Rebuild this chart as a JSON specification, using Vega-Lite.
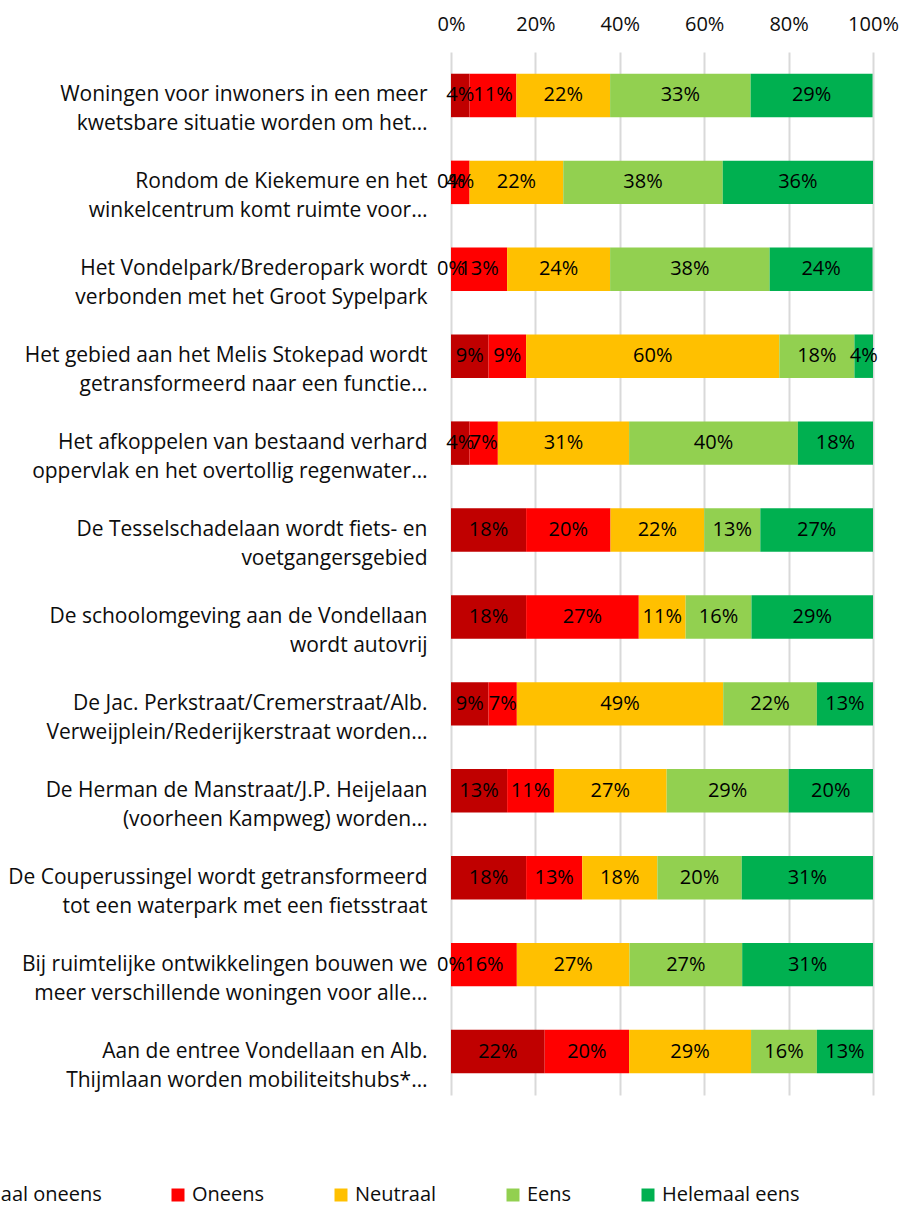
{
  "$schema": "https://vega.github.io/schema/vega-lite/v6.json",
  "width": 422,
  "height": 1043,
  "autosize": {"type": "none"},
  "padding": {"left": 451, "top": 52, "right": 35, "bottom": 111},
  "config": {"view": {"stroke": null}, "font": "Open Sans"},
  "data": {"values": [
    {"q": "Woningen voor inwoners in een meer|kwetsbare situatie worden om het…", "c": "Helemaal oneens", "o": 1, "p": 0.044},
    {"q": "Woningen voor inwoners in een meer|kwetsbare situatie worden om het…", "c": "Oneens", "o": 2, "p": 0.111},
    {"q": "Woningen voor inwoners in een meer|kwetsbare situatie worden om het…", "c": "Neutraal", "o": 3, "p": 0.222},
    {"q": "Woningen voor inwoners in een meer|kwetsbare situatie worden om het…", "c": "Eens", "o": 4, "p": 0.333},
    {"q": "Woningen voor inwoners in een meer|kwetsbare situatie worden om het…", "c": "Helemaal eens", "o": 5, "p": 0.289},
    {"q": "Rondom de Kiekemure en het|winkelcentrum komt ruimte voor…", "c": "Helemaal oneens", "o": 1, "p": 0},
    {"q": "Rondom de Kiekemure en het|winkelcentrum komt ruimte voor…", "c": "Oneens", "o": 2, "p": 0.044},
    {"q": "Rondom de Kiekemure en het|winkelcentrum komt ruimte voor…", "c": "Neutraal", "o": 3, "p": 0.222},
    {"q": "Rondom de Kiekemure en het|winkelcentrum komt ruimte voor…", "c": "Eens", "o": 4, "p": 0.378},
    {"q": "Rondom de Kiekemure en het|winkelcentrum komt ruimte voor…", "c": "Helemaal eens", "o": 5, "p": 0.356},
    {"q": "Het Vondelpark/Brederopark wordt|verbonden met het Groot Sypelpark", "c": "Helemaal oneens", "o": 1, "p": 0},
    {"q": "Het Vondelpark/Brederopark wordt|verbonden met het Groot Sypelpark", "c": "Oneens", "o": 2, "p": 0.133},
    {"q": "Het Vondelpark/Brederopark wordt|verbonden met het Groot Sypelpark", "c": "Neutraal", "o": 3, "p": 0.244},
    {"q": "Het Vondelpark/Brederopark wordt|verbonden met het Groot Sypelpark", "c": "Eens", "o": 4, "p": 0.378},
    {"q": "Het Vondelpark/Brederopark wordt|verbonden met het Groot Sypelpark", "c": "Helemaal eens", "o": 5, "p": 0.244},
    {"q": "Het gebied aan het Melis Stokepad wordt|getransformeerd naar een functie…", "c": "Helemaal oneens", "o": 1, "p": 0.089},
    {"q": "Het gebied aan het Melis Stokepad wordt|getransformeerd naar een functie…", "c": "Oneens", "o": 2, "p": 0.089},
    {"q": "Het gebied aan het Melis Stokepad wordt|getransformeerd naar een functie…", "c": "Neutraal", "o": 3, "p": 0.6},
    {"q": "Het gebied aan het Melis Stokepad wordt|getransformeerd naar een functie…", "c": "Eens", "o": 4, "p": 0.178},
    {"q": "Het gebied aan het Melis Stokepad wordt|getransformeerd naar een functie…", "c": "Helemaal eens", "o": 5, "p": 0.044},
    {"q": "Het afkoppelen van bestaand verhard|oppervlak en het overtollig regenwater…", "c": "Helemaal oneens", "o": 1, "p": 0.044},
    {"q": "Het afkoppelen van bestaand verhard|oppervlak en het overtollig regenwater…", "c": "Oneens", "o": 2, "p": 0.067},
    {"q": "Het afkoppelen van bestaand verhard|oppervlak en het overtollig regenwater…", "c": "Neutraal", "o": 3, "p": 0.311},
    {"q": "Het afkoppelen van bestaand verhard|oppervlak en het overtollig regenwater…", "c": "Eens", "o": 4, "p": 0.4},
    {"q": "Het afkoppelen van bestaand verhard|oppervlak en het overtollig regenwater…", "c": "Helemaal eens", "o": 5, "p": 0.178},
    {"q": "De Tesselschadelaan wordt fiets- en|voetgangersgebied", "c": "Helemaal oneens", "o": 1, "p": 0.178},
    {"q": "De Tesselschadelaan wordt fiets- en|voetgangersgebied", "c": "Oneens", "o": 2, "p": 0.2},
    {"q": "De Tesselschadelaan wordt fiets- en|voetgangersgebied", "c": "Neutraal", "o": 3, "p": 0.222},
    {"q": "De Tesselschadelaan wordt fiets- en|voetgangersgebied", "c": "Eens", "o": 4, "p": 0.133},
    {"q": "De Tesselschadelaan wordt fiets- en|voetgangersgebied", "c": "Helemaal eens", "o": 5, "p": 0.267},
    {"q": "De schoolomgeving aan de Vondellaan|wordt autovrij", "c": "Helemaal oneens", "o": 1, "p": 0.178},
    {"q": "De schoolomgeving aan de Vondellaan|wordt autovrij", "c": "Oneens", "o": 2, "p": 0.267},
    {"q": "De schoolomgeving aan de Vondellaan|wordt autovrij", "c": "Neutraal", "o": 3, "p": 0.111},
    {"q": "De schoolomgeving aan de Vondellaan|wordt autovrij", "c": "Eens", "o": 4, "p": 0.156},
    {"q": "De schoolomgeving aan de Vondellaan|wordt autovrij", "c": "Helemaal eens", "o": 5, "p": 0.288},
    {"q": "De Jac. Perkstraat/Cremerstraat/Alb.|Verweijplein/Rederijkerstraat worden…", "c": "Helemaal oneens", "o": 1, "p": 0.089},
    {"q": "De Jac. Perkstraat/Cremerstraat/Alb.|Verweijplein/Rederijkerstraat worden…", "c": "Oneens", "o": 2, "p": 0.067},
    {"q": "De Jac. Perkstraat/Cremerstraat/Alb.|Verweijplein/Rederijkerstraat worden…", "c": "Neutraal", "o": 3, "p": 0.489},
    {"q": "De Jac. Perkstraat/Cremerstraat/Alb.|Verweijplein/Rederijkerstraat worden…", "c": "Eens", "o": 4, "p": 0.222},
    {"q": "De Jac. Perkstraat/Cremerstraat/Alb.|Verweijplein/Rederijkerstraat worden…", "c": "Helemaal eens", "o": 5, "p": 0.133},
    {"q": "De Herman de Manstraat/J.P. Heijelaan|(voorheen Kampweg) worden…", "c": "Helemaal oneens", "o": 1, "p": 0.133},
    {"q": "De Herman de Manstraat/J.P. Heijelaan|(voorheen Kampweg) worden…", "c": "Oneens", "o": 2, "p": 0.111},
    {"q": "De Herman de Manstraat/J.P. Heijelaan|(voorheen Kampweg) worden…", "c": "Neutraal", "o": 3, "p": 0.267},
    {"q": "De Herman de Manstraat/J.P. Heijelaan|(voorheen Kampweg) worden…", "c": "Eens", "o": 4, "p": 0.289},
    {"q": "De Herman de Manstraat/J.P. Heijelaan|(voorheen Kampweg) worden…", "c": "Helemaal eens", "o": 5, "p": 0.2},
    {"q": "De Couperussingel wordt getransformeerd|tot een waterpark met een fietsstraat", "c": "Helemaal oneens", "o": 1, "p": 0.178},
    {"q": "De Couperussingel wordt getransformeerd|tot een waterpark met een fietsstraat", "c": "Oneens", "o": 2, "p": 0.133},
    {"q": "De Couperussingel wordt getransformeerd|tot een waterpark met een fietsstraat", "c": "Neutraal", "o": 3, "p": 0.178},
    {"q": "De Couperussingel wordt getransformeerd|tot een waterpark met een fietsstraat", "c": "Eens", "o": 4, "p": 0.2},
    {"q": "De Couperussingel wordt getransformeerd|tot een waterpark met een fietsstraat", "c": "Helemaal eens", "o": 5, "p": 0.311},
    {"q": "Bij ruimtelijke ontwikkelingen bouwen we|meer verschillende woningen voor alle…", "c": "Helemaal oneens", "o": 1, "p": 0},
    {"q": "Bij ruimtelijke ontwikkelingen bouwen we|meer verschillende woningen voor alle…", "c": "Oneens", "o": 2, "p": 0.156},
    {"q": "Bij ruimtelijke ontwikkelingen bouwen we|meer verschillende woningen voor alle…", "c": "Neutraal", "o": 3, "p": 0.267},
    {"q": "Bij ruimtelijke ontwikkelingen bouwen we|meer verschillende woningen voor alle…", "c": "Eens", "o": 4, "p": 0.267},
    {"q": "Bij ruimtelijke ontwikkelingen bouwen we|meer verschillende woningen voor alle…", "c": "Helemaal eens", "o": 5, "p": 0.31},
    {"q": "Aan de entree Vondellaan en Alb.|Thijmlaan worden mobiliteitshubs*…", "c": "Helemaal oneens", "o": 1, "p": 0.222},
    {"q": "Aan de entree Vondellaan en Alb.|Thijmlaan worden mobiliteitshubs*…", "c": "Oneens", "o": 2, "p": 0.2},
    {"q": "Aan de entree Vondellaan en Alb.|Thijmlaan worden mobiliteitshubs*…", "c": "Neutraal", "o": 3, "p": 0.289},
    {"q": "Aan de entree Vondellaan en Alb.|Thijmlaan worden mobiliteitshubs*…", "c": "Eens", "o": 4, "p": 0.156},
    {"q": "Aan de entree Vondellaan en Alb.|Thijmlaan worden mobiliteitshubs*…", "c": "Helemaal eens", "o": 5, "p": 0.133}
  ]},
  "encoding": {
    "y": {
      "field": "q", "type": "nominal", "sort": null,
      "scale": {"paddingInner": 0.5, "paddingOuter": 0.25},
      "axis": {
        "title": null, "domain": false, "ticks": false, "grid": false,
        "labelExpr": "split(datum.label, '|')",
        "labelFontSize": 21, "labelLineHeight": 29, "labelAlign": "right",
        "labelBaseline": "middle", "labelOffset": 0, "labelPadding": 24,
        "labelLimit": 500, "labelColor": "#0d0d0d"
      }
    },
    "order": {"field": "o", "type": "quantitative"}
  },
  "layer": [
    {
      "mark": {"type": "bar"},
      "encoding": {
        "x": {
          "field": "p", "type": "quantitative", "stack": "zero",
          "scale": {"domain": [0, 1], "nice": false},
          "axis": {
            "orient": "top", "title": null, "format": "%",
            "values": [0, 0.2, 0.4, 0.6, 0.8, 1],
            "grid": true, "gridColor": "#D9D9D9", "gridWidth": 2,
            "domain": false, "ticks": false,
            "labelFontSize": 20, "labelPadding": 18, "labelFlush": false,
            "labelOverlap": false, "labelColor": "#0d0d0d"
          }
        },
        "color": {
          "field": "c", "type": "nominal",
          "scale": {
            "domain": ["Helemaal oneens", "Oneens", "Neutraal", "Eens", "Helemaal eens"],
            "range": ["#C00000", "#FF0000", "#FFC000", "#92D050", "#00B050"]
          },
          "legend": {
            "title": null, "orient": "none", "legendX": -535, "legendY": 1133,
            "direction": "horizontal", "columns": 5,
            "symbolType": "square", "symbolSize": 169, "symbolStrokeWidth": 0,
            "labelFontSize": 20, "labelOffset": 4, "columnPadding": 66,
            "labelLimit": 300, "padding": 0, "labelColor": "#0d0d0d"
          }
        }
      }
    },
    {
      "mark": {"type": "text", "fontSize": 20, "color": "#000000", "baseline": "middle"},
      "encoding": {
        "x": {"field": "p", "type": "quantitative", "stack": "zero", "bandPosition": 0.5},
        "detail": {"field": "c", "type": "nominal"},
        "text": {"field": "p", "type": "quantitative", "format": ".0%"}
      }
    }
  ]
}
